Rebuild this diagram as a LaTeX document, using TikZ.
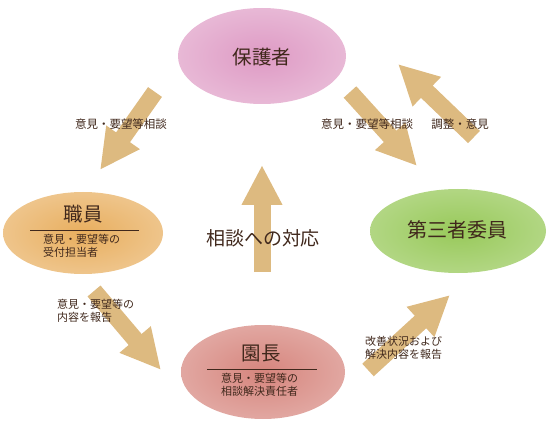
\documentclass[tikz,border=0pt]{standalone}
\usepackage{fontspec}
\setmainfont{Noto Sans CJK JP}
\usetikzlibrary{arrows.meta,shapes.geometric}
\definecolor{txt}{HTML}{40281C}
\definecolor{arr}{HTML}{DDBA80}
\definecolor{cpink}{HTML}{DE9AC4}
\definecolor{corange}{HTML}{E8AE5E}
\definecolor{ccoral}{HTML}{D6857D}
\definecolor{cgreen}{HTML}{98C95A}
\tikzset{
  blob/.style={ellipse, inner sep=0pt, text=txt},
  bigarrow/.style={draw=arr, line width=17pt, line cap=butt,
    -{Triangle[width=38pt,length=40pt]}},
  lab/.style={text=txt, font=\fontsize{11}{13.5}\selectfont, inner sep=0pt, align=left},
  arrlab/.style={text=txt, font=\fontsize{11.5}{14}\selectfont, inner sep=0pt, align=left},
}
\begin{document}
\begin{tikzpicture}[x=1pt,y=-1pt]
\useasboundingbox (0,0) rectangle (550,428);
% blobs
\shade[inner color=cpink, outer color=cpink!70!white] (262,56) ellipse [x radius=84, y radius=48];
\shade[inner color=corange, outer color=corange!72!white] (83,233) ellipse [x radius=80, y radius=41];
\shade[inner color=ccoral, outer color=ccoral!72!white] (263,372) ellipse [x radius=82, y radius=47];
\shade[inner color=cgreen, outer color=cgreen!75!white] (458,231) ellipse [x radius=88, y radius=42];
% main labels
\node[blob, font=\fontsize{19.5}{24}\selectfont] (hogosha) at (262,57) {保護者};
\node[blob, font=\fontsize{19.5}{24}\selectfont] (shokuin) at (83,214) {職員};
\node[blob, font=\fontsize{19.5}{24}\selectfont] (encho) at (261,354) {園長};
\node[blob, font=\fontsize{20}{24}\selectfont] (daisan) at (457,230) {第三者委員};
% rules and sub labels
\coordinate (s1) at (30,230); \coordinate (s2) at (139,230);
\draw[txt, line width=0.8pt] (s1) -- (s2);
\node[lab, anchor=north west] (shokuinsub) at (43,234) {意見・要望等の\\受付担当者};
\coordinate (e1) at (207,369); \coordinate (e2) at (317,369);
\draw[txt, line width=0.8pt] (e1) -- (e2);
\node[lab, anchor=north west] (enchosub) at (221,373) {意見・要望等の\\相談解決責任者};
% arrow coordinates
\coordinate (a1s) at (155,92);  \coordinate (a1e) at (100,170);
\coordinate (a2s) at (350,92);  \coordinate (a2e) at (417,166);
\coordinate (a3s) at (474,137); \coordinate (a3e) at (398,64);
\coordinate (a4s) at (262,272); \coordinate (a4e) at (262,165);
\coordinate (a5s) at (94,291);  \coordinate (a5e) at (161,370);
\coordinate (a6s) at (368,370); \coordinate (a6e) at (450,295);
\draw[bigarrow] (a1s) -- (a1e);
\draw[bigarrow] (a2s) -- (a2e);
\draw[bigarrow] (a3s) -- (a3e);
\draw[bigarrow] (a4s) -- (a4e);
\draw[bigarrow] (a5s) -- (a5e);
\draw[bigarrow] (a6s) -- (a6e);
% arrow labels
\node[arrlab] (l1) at (121,124) {意見・要望等相談};
\node[arrlab] (l2) at (367,124) {意見・要望等相談};
\node[arrlab] (l3) at (460,124) {調整・意見};
\node[text=txt, inner sep=0pt, font=\fontsize{19}{23}\selectfont] (l4) at (263,238) {相談への対応};
\node[lab, anchor=west] (l5) at (57,311) {意見・要望等の\\内容を報告};
\node[lab, anchor=west] (l6) at (365,348) {改善状況および\\解決内容を報告};
\end{tikzpicture}
\end{document}
